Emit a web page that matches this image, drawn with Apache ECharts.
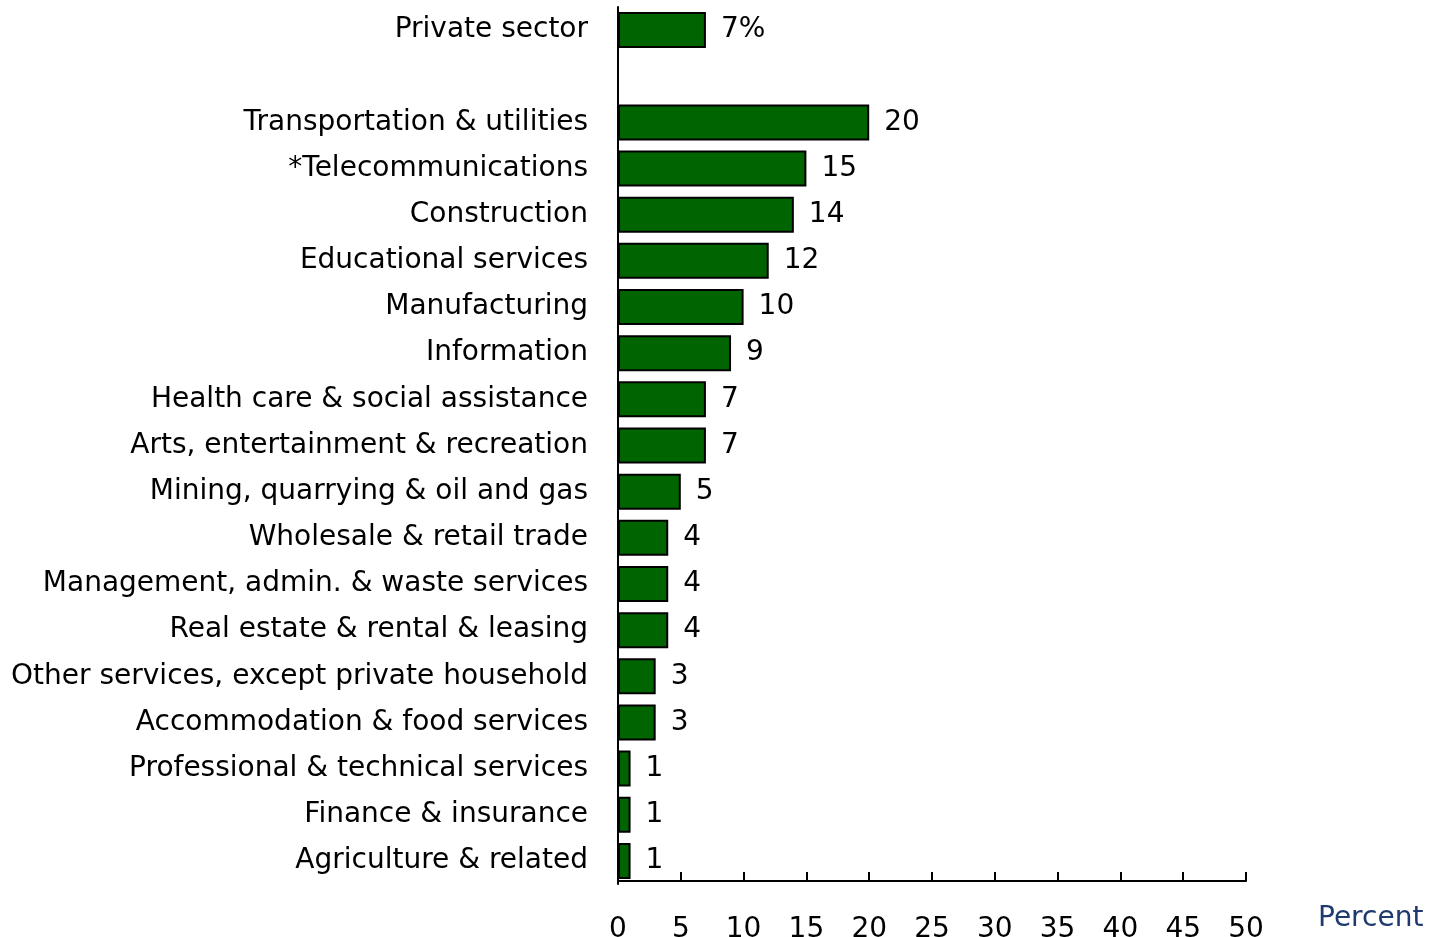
<!DOCTYPE html>
<html>
<head>
<meta charset="utf-8">
<script src="https://cdn.jsdelivr.net/npm/echarts@6/dist/echarts.min.js"></script>
<style>
  html, body { margin: 0; padding: 0; background: #fff; }
  #chart { width: 1432px; height: 937px; }
</style>
</head>
<body>
<div id="chart"></div>
<script>
// Industry names, top to bottom; the empty entry leaves a gap under the total
const industries = [
  'Private sector',
  '',
  'Transportation & utilities',
  '*Telecommunications',
  'Construction',
  'Educational services',
  'Manufacturing',
  'Information',
  'Health care & social assistance',
  'Arts, entertainment & recreation',
  'Mining, quarrying & oil and gas',
  'Wholesale & retail trade',
  'Management, admin. & waste services',
  'Real estate & rental & leasing',
  'Other services, except private household',
  'Accommodation & food services',
  'Professional & technical services',
  'Finance & insurance',
  'Agriculture & related'
];

// Percent values, same order (null for the gap row)
const percentValues = [7, null, 20, 15, 14, 12, 10, 9, 7, 7, 5, 4, 4, 4, 3, 3, 1, 1, 1];

// Value axis range
const axisMin = 0;
const axisMax = 50;
const axisStep = 5;

const FONT = '"DejaVu Sans", sans-serif';

const chart = echarts.init(document.getElementById('chart'));

chart.setOption({
  animation: false,
  grid: { left: 618, right: 186, top: 7, bottom: 53, containLabel: false, outerBoundsMode: 'none' },
  xAxis: {
    type: 'value',
    min: axisMin,
    max: axisMax,
    interval: axisStep,
    offset: -3,
    axisLine: { show: true, lineStyle: { color: '#000', width: 2 } },
    axisTick: { show: true, inside: true, length: 9, lineStyle: { color: '#000', width: 2 } },
    splitLine: { show: false },
    axisLabel: { color: '#000', fontFamily: FONT, fontSize: 28, margin: 35 }
  },
  yAxis: {
    type: 'category',
    inverse: true,
    data: industries,
    axisLine: { show: true, lineStyle: { color: '#000', width: 2 } },
    axisTick: { show: false },
    axisLabel: { color: '#000', fontFamily: FONT, fontSize: 28, margin: 30, padding: [10, 0, 0, 0] }
  },
  series: [{
    type: 'bar',
    data: percentValues,
    barWidth: 36,
    itemStyle: { color: '#006400', borderColor: '#000', borderWidth: 2 },
    label: {
      show: true,
      position: 'right',
      distance: 15,
      color: '#000',
      fontFamily: FONT,
      fontSize: 28,
      padding: [8, 0, 0, 0],
      formatter: p => (p.value == null ? '' : (p.dataIndex === 0 ? p.value + '%' : String(p.value)))
    }
  }],
  graphic: [{
    type: 'text',
    left: 1318,
    top: 905,
    style: { text: 'Percent', fill: '#1F3A6E', font: '28px ' + FONT }
  }]
});
</script>
</body>
</html>
